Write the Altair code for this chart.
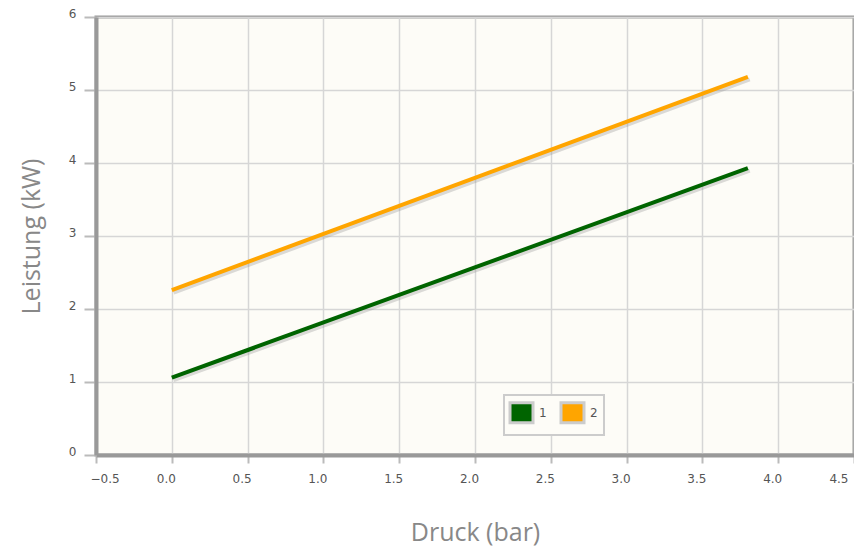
import altair as alt
import pandas as pd

series_names = ["1", "2"]
pressure = [0.0, 3.8]
power_1 = [1.06, 3.93]
power_2 = [2.26, 5.18]
colors = ["#006400", "#ffa500"]

rows = []
for name, vals in zip(series_names, [power_1, power_2]):
    for xv, yv in zip(pressure, vals):
        rows.append({"Druck": xv, "Leistung": yv, "Serie": name})
df = pd.DataFrame(rows)

xscale = alt.Scale(domain=[-0.5, 4.5], nice=False, zero=False)
yscale = alt.Scale(domain=[0, 6], nice=False)
cscale = alt.Scale(domain=series_names, range=colors)

x_axis = alt.Axis(
    title="Druck (bar)", values=[-0.5, 0, 0.5, 1, 1.5, 2, 2.5, 3, 3.5, 4, 4.5],
    format=".1f", tickSize=8, labelPadding=10, labelOffset=-6, titlePadding=36,
    domain=True, domainColor="#999999", domainWidth=4,
    tickColor="#bbbbbb", tickWidth=2, grid=True, gridColor="#d6d6d6", gridWidth=1.5,
    labelFont="DejaVu Sans", labelFontSize=12, labelColor="#555555",
    titleFont="Open Sans", titleFontSize=25, titleColor="#888888", titleFontWeight="normal",
)
y_axis = alt.Axis(
    title="Leistung (kW)", values=[0, 1, 2, 3, 4, 5, 6], format="d",
    tickSize=12, labelPadding=8, labelOffset=-4, titlePadding=24,
    domain=True, domainColor="#999999", domainWidth=4,
    tickColor="#bbbbbb", tickWidth=2, grid=True, gridColor="#d6d6d6", gridWidth=1.5,
    labelFont="DejaVu Sans", labelFontSize=12, labelColor="#555555",
    titleFont="Open Sans", titleFontSize=25, titleColor="#888888", titleFontWeight="normal",
)

shadow = alt.Chart(df).transform_calculate(
    sx="datum.Druck + 0.012", sy="datum.Leistung - 0.035"
).mark_line(strokeWidth=4, color="#999999", opacity=0.35).encode(
    x=alt.X("sx:Q", scale=xscale, axis=x_axis),
    y=alt.Y("sy:Q", scale=yscale, axis=y_axis),
    detail="Serie:N",
)

lines = alt.Chart(df).mark_line(strokeWidth=4).encode(
    x=alt.X("Druck:Q", scale=xscale, axis=x_axis),
    y=alt.Y("Leistung:Q", scale=yscale, axis=y_axis),
    color=alt.Color("Serie:N", scale=cscale, legend=None),
)

legend_layer = alt.Chart(df).transform_calculate(
    Reihe="datum.Serie"
).mark_point(filled=True, opacity=0, shape="square").encode(
    x=alt.X("Druck:Q", scale=xscale, axis=x_axis),
    y=alt.Y("Leistung:Q", scale=yscale, axis=y_axis),
    fill=alt.Fill(
        "Reihe:N", scale=cscale,
        legend=alt.Legend(
            title=None, orient="none", legendX=408, legendY=378, direction="horizontal",
            symbolType="M-1.15,-1H1.15V1H-1.15Z", symbolSize=400, symbolStrokeColor="#cccccc",
            symbolStrokeWidth=3, symbolOpacity=1,
            labelFont="DejaVu Sans", labelFontSize=12, labelColor="#555555",
            strokeColor="#cccccc", padding=6, columnPadding=8, labelOffset=6,
            fillColor="#fdfcf7",
        ),
    ),
)

chart = alt.layer(shadow, lines, legend_layer).resolve_legend(
    color="independent", fill="independent"
).properties(
    width=758, height=438,
    background="white",
    padding={"left": 88, "top": 9, "right": 0, "bottom": 92},
    autosize=alt.AutoSizeParams(type="none"),
).configure_view(
    fill="#fdfcf7", stroke="#999999", strokeWidth=3
).configure_legend(
    strokeWidth=2
)

chart.save("out.html", embed_options={"renderer": "svg", "actions": False})
